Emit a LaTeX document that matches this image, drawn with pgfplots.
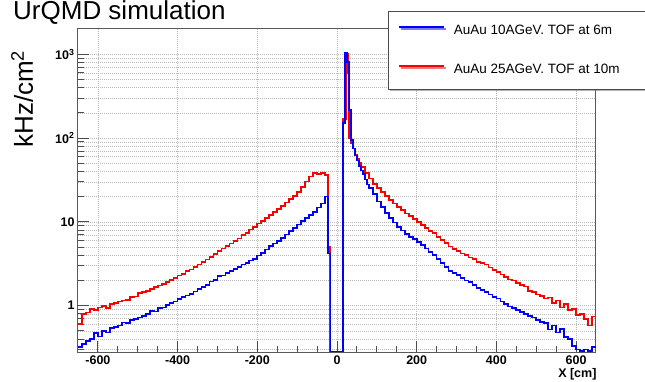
\documentclass[border=0pt]{standalone}
\usepackage{pgfplots}
\pgfplotsset{compat=1.18}
\usepackage{fontspec}
\setmainfont{Liberation Sans}
\usetikzlibrary{shadows}

\definecolor{rootblue}{RGB}{0,0,250}
\definecolor{rootred}{RGB}{250,0,0}

\begin{document}
\begin{tikzpicture}
\useasboundingbox (0pt,0pt) rectangle (645pt,381pt);
\node[anchor=base west, inner sep=0pt, font=\fontsize{26}{30}\selectfont] at (13pt,361.5pt) {UrQMD simulation};
\begin{axis}[
  at={(78pt,29pt)}, anchor=south west,
  scale only axis, width=518pt, height=323pt,
  xmin=-650, xmax=650, ymin=0.28, ymax=2000,
  ymode=log,
  xtick={-600,-400,-200,0,200,400,600},
  xticklabels={-600,-400,-200,0,200,400,600},
  minor x tick num=3,
  ytick={1,10,100,1000},
  yticklabels={1,10,10\textsuperscript{2},10\textsuperscript{3}},
  minor ytick={0.3,0.4,0.5,0.6,0.7,0.8,0.9,2,3,4,5,6,7,8,9,20,30,40,50,60,70,80,90,200,300,400,500,600,700,800,900},
  tick pos=left,
  tick align=inside,
  major tick length=11pt,
  minor tick length=6pt,
  tick style={black!70, line width=0.9pt},
  axis line style={black!65, line width=1pt},
  xmajorgrids=true, ymajorgrids=true, yminorgrids=true,
  major grid style={gray!55, line width=0.5pt, dash pattern=on 1pt off 1pt},
  minor grid style={gray!55, line width=0.5pt, dash pattern=on 1pt off 1pt},
  ticklabel style={font=\fontsize{12.5}{14}\bfseries},
  xlabel={X [cm]},
  every axis x label/.style={at={(axis description cs:1.0077,-0.040)}, anchor=north east, font=\fontsize{12.5}{14}\bfseries},
  ylabel={kHz/cm\textsuperscript{2}},
  every axis y label/.style={at={(axis description cs:-0.108,0.783)}, anchor=center, rotate=90, font=\fontsize{26}{30}\selectfont},
  reverse legend,
  legend cell align=left,
  legend image code/.code={\draw[#1, line width=1.7pt] (0pt,3.5pt) -- (45pt,3.5pt);},
  legend style={at={(axis description cs:0.598,1.056)}, anchor=north west,
    draw=black!70, line width=0.8pt, fill=white,
    drop shadow={shadow xshift=1.5pt, shadow yshift=-1.5pt, fill=black!60},
    font=\fontsize{13.5}{16}\selectfont,
    inner xsep=10pt, inner ysep=13pt, row sep=26pt, column sep=9pt,
    nodes={inner sep=0pt, text height=10pt, text depth=3pt}},
]
% 25 AGeV, TOF wall at 10 m
\addplot[const plot, rootred, line width=1.7pt] table {
x y
-650 0.60
-640 0.79
-630 0.83
-620 0.91
-610 0.89
-600 0.95
-590 1.00
-580 0.93
-570 1.05
-560 1.07
-550 1.12
-540 1.15
-530 1.17
-520 1.26
-510 1.29
-500 1.41
-490 1.45
-480 1.51
-470 1.58
-460 1.66
-450 1.74
-440 1.82
-430 1.91
-420 2.04
-410 2.14
-400 2.29
-390 2.40
-380 2.57
-370 2.69
-360 2.88
-350 3.09
-340 3.31
-330 3.55
-320 3.80
-310 4.17
-300 4.47
-290 4.79
-280 5.13
-270 5.50
-260 5.89
-250 6.31
-240 6.92
-230 7.41
-220 8.13
-210 8.71
-200 9.55
-190 10.2
-180 11.2
-170 12.0
-160 13.2
-150 14.1
-140 15.5
-130 17.0
-120 18.6
-110 20.4
-100 22.9
-90 26.3
-80 30.2
-70 34.7
-60 38.0
-50 37.2
-40 38.0
-30 36.3
-22 5.0
-17 0.285
15 170
22 1000
27 600
31 100
35 88
40 75
45 63
50 56
55 50
60 45
70 38.5
80 33
90 28.5
100 25.5
110 22.5
120 20.5
130 18.3
140 16.6
150 15.0
160 13.8
170 12.6
180 11.7
190 10.8
200 10.0
210 9.2
220 8.5
230 7.8
240 7.3
250 6.6
260 6.1
270 5.6
280 5.1
290 4.7
300 4.5
310 4.2
320 4.0
330 3.75
340 3.6
350 3.35
360 3.2
370 3.1
380 2.85
390 2.65
400 2.5
410 2.35
420 2.2
430 2.05
440 2.0
450 1.86
460 1.75
470 1.7
480 1.5
490 1.45
500 1.36
510 1.3
520 1.22
530 1.25
540 1.08
550 1.15
560 0.95
570 1.05
580 0.88
590 0.92
600 0.78
610 0.80
620 0.70
630 0.58
640 0.74
650 0.74
};
\addlegendentry{\makebox[200pt][l]{AuAu 25AGeV. TOF at 10m}}
% 10 AGeV, TOF wall at 6 m
\addplot[const plot, rootblue, line width=1.7pt] table {
x y
-650 0.32
-640 0.35
-630 0.38
-620 0.40
-610 0.47
-600 0.43
-590 0.50
-580 0.48
-570 0.54
-560 0.56
-550 0.58
-540 0.63
-530 0.62
-520 0.68
-510 0.69
-500 0.72
-490 0.76
-480 0.79
-470 0.87
-460 0.85
-450 0.93
-440 0.95
-430 1.02
-420 1.07
-410 1.12
-400 1.20
-390 1.26
-380 1.32
-370 1.38
-360 1.48
-350 1.58
-340 1.66
-330 1.78
-320 1.95
-310 2.04
-300 2.24
-290 2.29
-280 2.45
-270 2.57
-260 2.75
-250 2.88
-240 3.09
-230 3.24
-220 3.47
-210 3.63
-200 3.98
-190 4.27
-180 4.68
-170 5.13
-160 5.50
-150 5.89
-140 6.46
-130 7.08
-120 7.76
-110 8.51
-100 9.33
-90 10.2
-80 11.2
-70 12.0
-60 13.2
-50 14.8
-40 16.6
-30 20.0
-22 4.2
-16 0.285
15 150
20 1050
25 800
30 214
35 95
40 75
45 62
50 54
55 46
60 41
65 37
70 32
75 28
80 25.5
90 21.5
100 17.5
110 15.0
120 12.8
130 11.2
140 9.8
150 8.6
160 7.9
170 7.2
180 6.6
190 6.2
200 5.8
210 5.3
220 4.8
230 4.4
240 4.0
250 3.6
260 3.2
270 2.9
280 2.6
290 2.45
300 2.3
310 2.15
320 2.0
330 1.9
340 1.75
350 1.63
360 1.55
370 1.45
380 1.36
390 1.28
400 1.22
410 1.12
420 1.05
430 0.98
440 0.93
450 0.89
460 0.84
470 0.80
480 0.76
490 0.72
500 0.68
510 0.64
520 0.62
530 0.52
540 0.58
550 0.48
560 0.53
570 0.42
580 0.40
590 0.33
600 0.30
610 0.29
620 0.30
630 0.29
640 0.32
650 0.32
};
\addlegendentry{\makebox[200pt][l]{AuAu 10AGeV. TOF at 6m}}
\end{axis}
\end{tikzpicture}
\end{document}
